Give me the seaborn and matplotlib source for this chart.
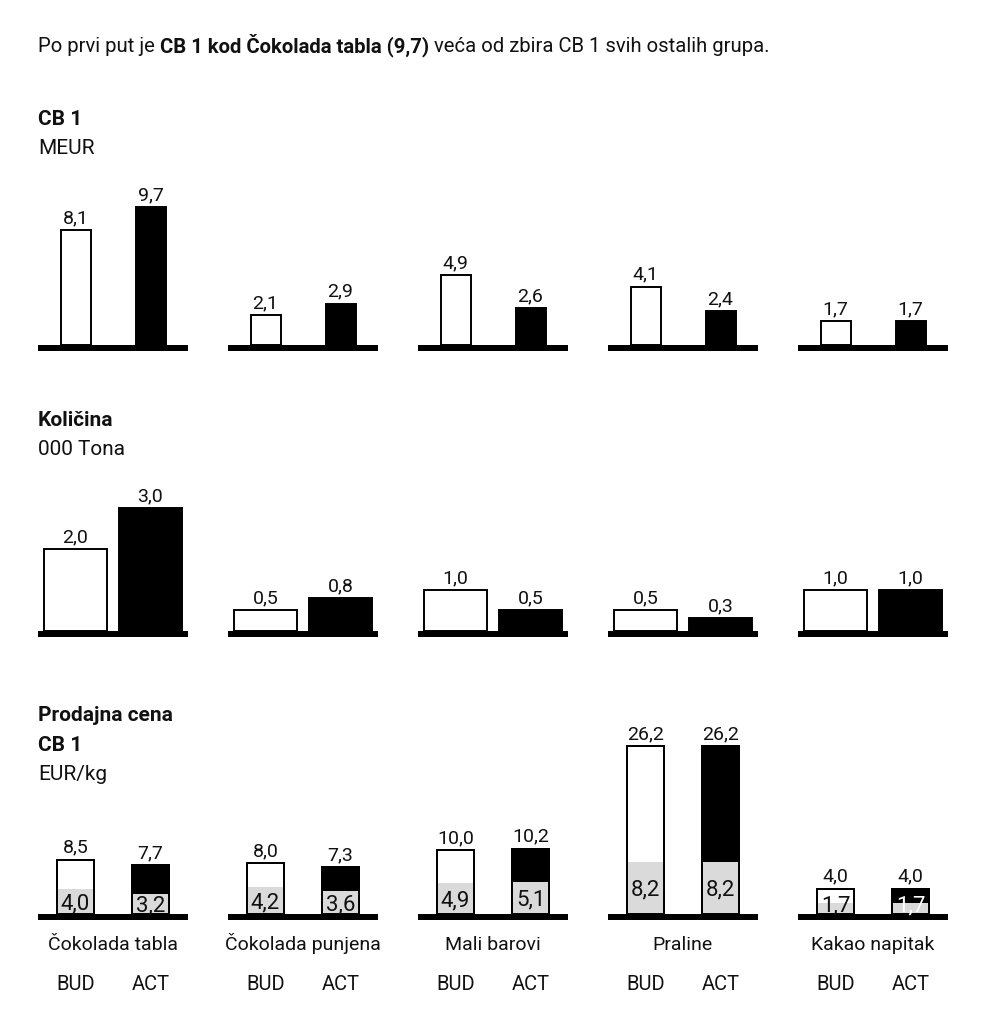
import matplotlib
matplotlib.use("Agg")
import matplotlib.pyplot as plt
from matplotlib import font_manager as fm
import pandas as pd
import seaborn as sns

# ---------------- data ----------------
categories = ["Čokolada tabla", "Čokolada punjena", "Mali barovi", "Praline", "Kakao napitak"]
series = ["BUD", "ACT"]

cb1_bud = [8.1, 2.1, 4.9, 4.1, 1.7]
cb1_act = [9.7, 2.9, 2.6, 2.4, 1.7]

qty_bud = [2.0, 0.5, 1.0, 0.5, 1.0]
qty_act = [3.0, 0.8, 0.5, 0.3, 1.0]

price_bud = [8.5, 8.0, 10.0, 26.2, 4.0]
price_act = [7.7, 7.3, 10.2, 26.2, 4.0]
price_inner_bud = [4.0, 4.2, 4.9, 8.2, 1.7]
price_inner_act = [3.2, 3.6, 5.1, 8.2, 1.7]

title_parts = [("Po prvi put je", "normal"),
               ("CB 1 kod Čokolada tabla (9,7)", "bold"),
               ("veća od zbira CB 1 svih ostalih grupa.", "normal")]

# ---------------- style ----------------
sns.set_theme(style="white")
avail = {f.name for f in fm.fontManager.ttflist}
FONT = "DejaVu Sans"
for cand in ["Roboto", "Liberation Sans", "Noto Sans"]:
    if cand in avail:
        FONT = cand
        break
plt.rcParams["font.family"] = [FONT, "DejaVu Sans"]
TXT = "#111111"
plt.rcParams["text.color"] = TXT

W, H = 986, 1024
PT = 72 / 100.0  # points per pixel
fig = plt.figure(figsize=(W / 100, H / 100), dpi=100)
fig.patch.set_facecolor("white")


def fmt(v):
    return f"{v:.1f}".replace(".", ",")


def ftext(x, y, s, **kw):
    return fig.text(x / W, 1 - y / H, s, va="baseline", ha="left", **kw)


# ---------------- title (mixed weight) ----------------
fig.canvas.draw()
rend = fig.canvas.get_renderer()
TS = 14.6
probe1 = fig.text(0, 0, "a a", fontsize=TS)
probe2 = fig.text(0, 0, "aa", fontsize=TS)
space_w = probe1.get_window_extent(rend).width - probe2.get_window_extent(rend).width
probe1.remove(); probe2.remove()
x = 38.0
for txt, wgt in title_parts:
    t = ftext(x, 52, txt, fontsize=TS, fontweight=wgt)
    x += t.get_window_extent(rend).width + space_w

# ---------------- headers ----------------
HS = 15
ftext(38, 125, "CB 1", fontsize=HS, fontweight="bold")
ftext(38, 154, "MEUR", fontsize=HS)
ftext(38, 426, "Količina", fontsize=HS, fontweight="bold")
ftext(38, 455, "000 Tona", fontsize=HS)
ftext(38, 721, "Prodajna cena", fontsize=HS, fontweight="bold")
ftext(38, 751, "CB 1", fontsize=HS, fontweight="bold")
ftext(38, 780, "EUR/kg", fontsize=HS)

# ---------------- panels ----------------
rows = [
    dict(bud=cb1_bud, act=cb1_act, base=345.0, scale=14.2, top=170, width=0.4),
    dict(bud=qty_bud, act=qty_act, base=630.7, scale=40.8, top=480, width=0.83),
    dict(bud=price_bud, act=price_act, base=914.3, scale=6.42, top=735, width=0.5,
         ibud=price_inner_bud, iact=price_inner_act),
]
LINE = 6.0
EDGE = 1.4

for r, row in enumerate(rows):
    s = row["scale"]
    w = row["width"]
    for i, cat in enumerate(categories):
        left = 38 + 190 * i
        bottom_px = row["base"] + LINE
        height_px = bottom_px - row["top"]
        ax = fig.add_axes([left / W, 1 - bottom_px / H, 150 / W, height_px / H])
        df = pd.DataFrame({"series": series, "value": [row["bud"][i], row["act"][i]]})
        sns.barplot(data=df, x="series", y="value", hue="series", order=series,
                    hue_order=series, palette={"BUD": "white", "ACT": "black"},
                    width=w, edgecolor="black", linewidth=EDGE, saturation=1,
                    legend=False, errorbar=None, ax=ax)
        if "ibud" in row:
            dfi = pd.DataFrame({"series": series, "value": [row["ibud"][i], row["iact"][i]]})
            sns.barplot(data=dfi, x="series", y="value", order=series, color="#dadada",
                        width=w, linewidth=0, saturation=1, errorbar=None, ax=ax)
            sns.barplot(data=df, x="series", y="value", order=series, color="black",
                        fill=False, width=w, linewidth=EDGE, errorbar=None, ax=ax)
            for j, v in enumerate(dfi["value"]):
                col = "white" if (j == 1 and v * s < 18) else TXT
                off_px = max(v * s / 2 - 7.5, 2.5)
                ax.annotate(fmt(v), xy=(j, 0), xytext=(0, off_px * PT), textcoords="offset points",
                            ha="center", va="baseline", fontsize=16, color=col, zorder=6)
            # category + series labels
            ax.annotate(cat, xy=(0.5, 0), xycoords="axes fraction",
                        xytext=(0, -(950 - bottom_px) * PT), textcoords="offset points",
                        ha="center", va="baseline", fontsize=14, annotation_clip=False)
            for j, lab in enumerate(series):
                ax.annotate(lab, xy=(j, 0), xycoords=("data", "axes fraction"),
                            xytext=(0, -(990 - bottom_px) * PT), textcoords="offset points",
                            ha="center", va="baseline", fontsize=14.5, annotation_clip=False)
        for j, v in enumerate(df["value"]):
            ax.annotate(fmt(v), xy=(j, v), xytext=(0, 7 * PT), textcoords="offset points",
                        ha="center", va="baseline", fontsize=14, annotation_clip=False)
        ax.set_xlim(-0.5, 1.5)
        ax.set_ylim(-LINE / s, (height_px - LINE) / s)
        ax.axhline(-LINE / 2 / s, color="black", lw=LINE * PT, solid_capstyle="butt", zorder=5)
        ax.axis("off")

fig.savefig("out.png", dpi=100, facecolor="white")
